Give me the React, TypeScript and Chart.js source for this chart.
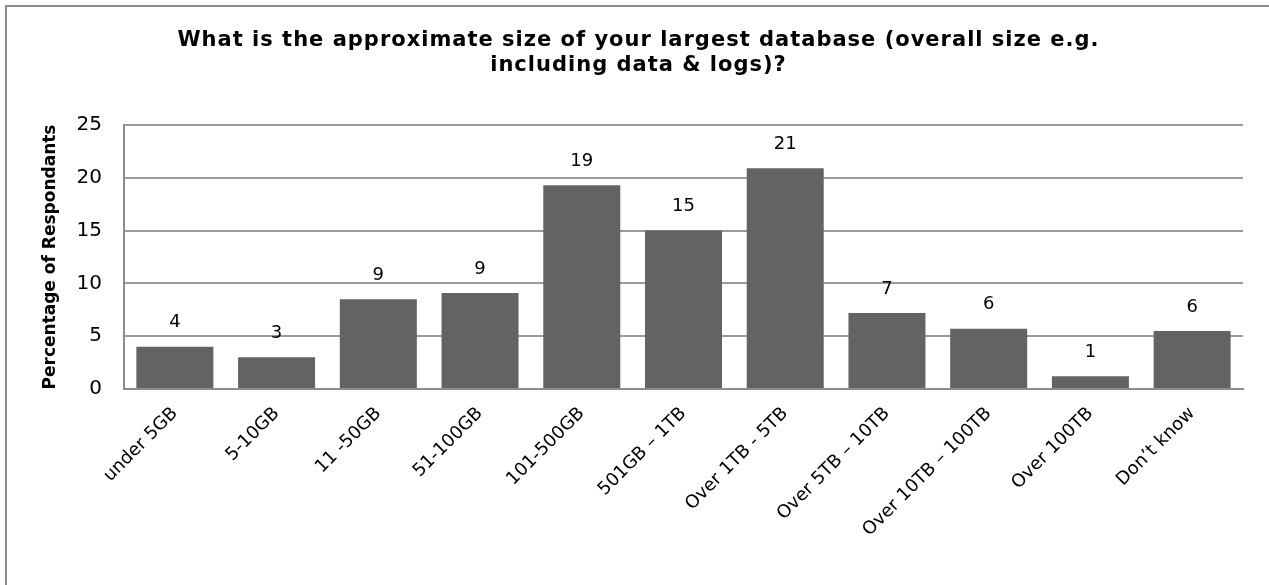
import React, { useEffect, useRef } from "react";
import { Chart, registerables } from "chart.js";

Chart.register(...registerables);

const categories = [
  "under 5GB",
  "5-10GB",
  "11 -50GB",
  "51-100GB",
  "101-500GB",
  "501GB – 1TB",
  "Over 1TB - 5TB",
  "Over 5TB – 10TB",
  "Over 10TB – 100TB",
  "Over 100TB",
  "Don’t know",
];
const values = [4.0, 3.0, 8.5, 9.1, 19.3, 15.0, 20.9, 7.2, 5.7, 1.2, 5.5];
const titleLines = [
  "What is the approximate size of your largest database (overall size e.g.",
  "including data & logs)?",
];
const yAxisTitle = "Percentage of Respondants";
const yMin = 0;
const yMax = 25;
const yStep = 5;

const FONT = '"DejaVu Sans", sans-serif';

const overlayPlugin = {
  id: "overlay",
  afterDatasetsDraw(chart: any) {
    const ctx = chart.ctx;
    const meta = chart.getDatasetMeta(0);
    ctx.save();
    ctx.fillStyle = "#000";
    ctx.textAlign = "center";
    ctx.textBaseline = "middle";
    ctx.font = `18px ${FONT}`;
    meta.data.forEach((bar: any, i: number) => {
      ctx.fillText(String(Math.round(values[i])), bar.x, bar.y - 24);
    });
    ctx.font = `bold 21px ${FONT}`;
    try {
      (ctx as any).letterSpacing = "1px";
    } catch (e) {}
    ctx.textBaseline = "alphabetic";
    const cx = chart.width / 2 + 4;
    ctx.fillText(titleLines[0], cx, 46);
    ctx.fillText(titleLines[1], cx, 71);
    ctx.restore();
  },
};

export default function App() {
  const ref = useRef<HTMLCanvasElement | null>(null);

  useEffect(() => {
    if (!ref.current) return;
    const chart = new Chart(ref.current, {
      type: "bar",
      data: {
        labels: categories,
        datasets: [
          {
            data: values,
            backgroundColor: "#636363",
            borderWidth: 0,
            barPercentage: 0.757,
            categoryPercentage: 1,
          },
        ],
      },
      options: {
        responsive: false,
        animation: false,
        layout: { padding: { top: 125, right: 26, bottom: 0, left: 0 } },
        plugins: {
          legend: { display: false },
          tooltip: { enabled: false },
          title: { display: false },
        },
        scales: {
          x: {
            grid: { display: false, drawTicks: false },
            border: { display: true, color: "#8c8c8c", width: 2 },
            ticks: {
              autoSkip: false,
              minRotation: 45,
              maxRotation: 45,
              padding: 14,
              color: "#000",
              font: { family: FONT, size: 18 },
            },
            afterFit: (s: any) => {
              s.height = 196;
            },
          },
          y: {
            min: yMin,
            max: yMax,
            ticks: {
              stepSize: yStep,
              padding: 22,
              color: "#000",
              font: { family: FONT, size: 20 },
            },
            grid: { color: "#9a9a9a", lineWidth: 2, drawTicks: false },
            border: { display: true, color: "#8c8c8c", width: 2 },
            title: {
              display: true,
              text: yAxisTitle,
              color: "#000",
              font: { family: FONT, size: 17, weight: "bold" },
              padding: { top: 40, bottom: 0 },
            },
            afterFit: (s: any) => {
              s.width = 124;
            },
          },
        },
      },
      plugins: [overlayPlugin],
    });
    return () => chart.destroy();
  }, []);

  return (
    <div
      style={{
        position: "fixed",
        left: 0,
        top: 0,
        width: 1269,
        height: 585,
        background: "#fff",
        overflow: "hidden",
      }}
    >
      <canvas
        ref={ref}
        width={1269}
        height={585}
        style={{ position: "absolute", left: 0, top: 0, width: 1269, height: 585 }}
      />
      <div
        style={{
          position: "absolute",
          left: 5,
          top: 5,
          width: 1400,
          height: 700,
          borderLeft: "2px solid #8c8c8c",
          borderTop: "2px solid #8c8c8c",
          pointerEvents: "none",
        }}
      />
    </div>
  );
}
